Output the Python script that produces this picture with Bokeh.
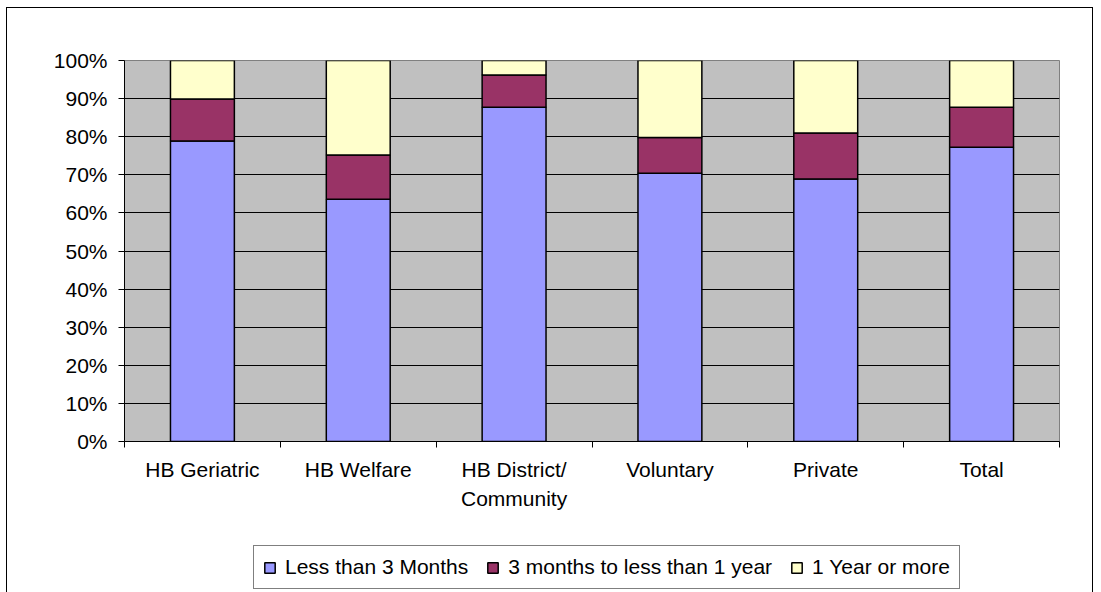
import numpy as np
from bokeh.plotting import figure
from bokeh.layouts import column
from bokeh.models import FixedTicker, Legend, LegendItem, ColumnDataSource, Range1d
from bokeh.embed import file_html
from bokeh.resources import INLINE

categories = ["HB Geriatric", "HB Welfare", "HB District/\nCommunity", "Voluntary", "Private", "Total"]
series_names = ["Less than 3 Months", "3 months to less than 1 year", "1 Year or more"]
less_3_months = [78.9, 63.6, 87.7, 70.4, 68.9, 77.2]
months_3_to_1_year = [11.0, 11.6, 8.5, 9.4, 12.1, 10.5]
year_1_or_more = [10.1, 24.8, 3.8, 20.2, 19.0, 12.3]
y_ticks = [0, 10, 20, 30, 40, 50, 60, 70, 80, 90, 100]
y_tick_labels = [f"{t}%" for t in y_ticks]

colors = ["#9999FF", "#993366", "#FFFFCC"]
FONT = "Liberation Sans"

n = len(categories)
xpos = np.arange(n) + 0.5
src = ColumnDataSource(dict(x=xpos, a=less_3_months, b=months_3_to_1_year, c=year_1_or_more))

W = 1085
H_MAIN = 522
H_LEG = 62

p = figure(width=W, height=H_MAIN, output_backend="svg", toolbar_location=None,
           x_range=Range1d(0, n), y_range=Range1d(0, 100),
           min_border_left=117, min_border_right=33, min_border_top=52, min_border_bottom=89)
p.background_fill_color = "#C0C0C0"
p.border_fill_color = "white"
p.outline_line_color = "#808080"
p.outline_line_width = 1

rs = p.vbar_stack(["a", "b", "c"], x="x", width=0.41, source=src, color=colors,
                  line_color="black", line_width=1.5)

# x axis
p.xaxis.ticker = FixedTicker(ticks=list(xpos), minor_ticks=list(range(n + 1)))
p.xaxis.major_label_overrides = {float(x): c for x, c in zip(xpos, categories)}
p.xaxis.major_tick_line_color = None
p.xaxis.major_tick_out = 0
p.xaxis.minor_tick_line_color = "black"
p.xaxis.minor_tick_out = 6
p.xaxis.minor_tick_in = 0
p.xaxis.axis_line_color = "black"
p.xaxis.major_label_text_font = FONT
p.xaxis.major_label_text_font_size = "21px"
p.xaxis.major_label_text_color = "black"
p.xaxis.major_label_text_line_height = 1.3
p.xaxis.major_label_standoff = 10

# y axis
p.yaxis.ticker = FixedTicker(ticks=y_ticks)
p.yaxis.major_label_overrides = {t: l for t, l in zip(y_ticks, y_tick_labels)}
p.yaxis.major_tick_out = 6
p.yaxis.major_tick_in = 0
p.yaxis.minor_tick_line_color = None
p.yaxis.axis_line_color = "black"
p.yaxis.major_tick_line_color = "black"
p.yaxis.major_label_text_font = FONT
p.yaxis.major_label_text_font_size = "21px"
p.yaxis.major_label_text_color = "black"
p.yaxis.major_label_standoff = 11

p.xgrid.visible = False
p.ygrid.ticker = FixedTicker(ticks=y_ticks)
p.ygrid.grid_line_color = "black"
p.ygrid.grid_line_width = 1

# legend strip: a second figure; its legend-only renderers are tiny and hidden under the legend box
lf = figure(width=W, height=H_LEG, output_backend="svg", toolbar_location=None,
            x_range=Range1d(0, n), y_range=Range1d(-1, 1),
            x_axis_location=None, y_axis_location=None, min_border=0)
lf.xgrid.visible = False
lf.ygrid.visible = False
lf.outline_line_color = None
lf.background_fill_color = "white"
lf.border_fill_color = "white"
legend_src = ColumnDataSource(dict(x=[n / 2], a=[0.01], b=[0.01], c=[0.01]))
lrs = lf.vbar_stack(["a", "b", "c"], x="x", width=0.01, source=legend_src, color=colors,
                    line_color="black", line_width=1.5)

legend = Legend(items=[LegendItem(label=nm, renderers=[r]) for nm, r in zip(series_names, lrs)],
                location=(129, 3), orientation="horizontal")
legend.label_text_font = FONT
legend.label_text_font_size = "21px"
legend.label_text_color = "black"
legend.glyph_width = 13
legend.glyph_height = 13
legend.label_standoff = 9
legend.spacing = 18
legend.padding = 9
legend.margin = 0
legend.border_line_color = "black"
legend.border_line_width = 1
legend.background_fill_color = "white"
legend.background_fill_alpha = 1
lf.add_layout(legend, "center")

page = column(p, lf, spacing=0)
page.styles = {"border-top": "1px solid black", "border-left": "1px solid black",
               "border-right": "1px solid black", "margin-left": "6px", "margin-top": "7px"}

open("out.html", "w").write(file_html(page, INLINE))
